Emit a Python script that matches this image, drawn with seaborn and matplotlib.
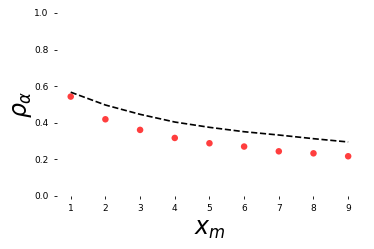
import numpy as np
import matplotlib
matplotlib.use("Agg")
import matplotlib.pyplot as plt
import seaborn as sns

# values
x_m = [1, 2, 3, 4, 5, 6, 7, 8, 9]
rho_points = [0.543, 0.419, 0.361, 0.317, 0.288, 0.270, 0.244, 0.233, 0.217]
rho_curve = [0.567, 0.497, 0.446, 0.404, 0.375, 0.351, 0.333, 0.313, 0.295]
y_ticks = [0.0, 0.2, 0.4, 0.6, 0.8, 1.0]

sns.set_style("ticks")

fig, ax = plt.subplots(figsize=(3.74, 2.49), dpi=100)
fig.subplots_adjust(left=0.152, right=0.968, bottom=0.213, top=0.948)

sns.lineplot(x=x_m, y=rho_curve, ax=ax, color="black", linestyle="--", linewidth=1.2)
sns.scatterplot(x=x_m, y=rho_points, ax=ax, color="#ff3333", s=22, edgecolor="none", alpha=0.95)

ax.set_ylim(0, 1.0)
ax.set_xticks(x_m)
ax.set_yticks(y_ticks)
ax.tick_params(labelsize=6.5, length=2.5, width=0.6, colors="black")
ax.set_xlabel("$x_m$", fontsize=17, labelpad=3, color="black")
ax.set_ylabel(r"$\rho_\alpha$", fontsize=17, labelpad=0, color="black")
sns.despine(ax=ax, left=True, bottom=True)

fig.savefig("out.png", dpi=100)
